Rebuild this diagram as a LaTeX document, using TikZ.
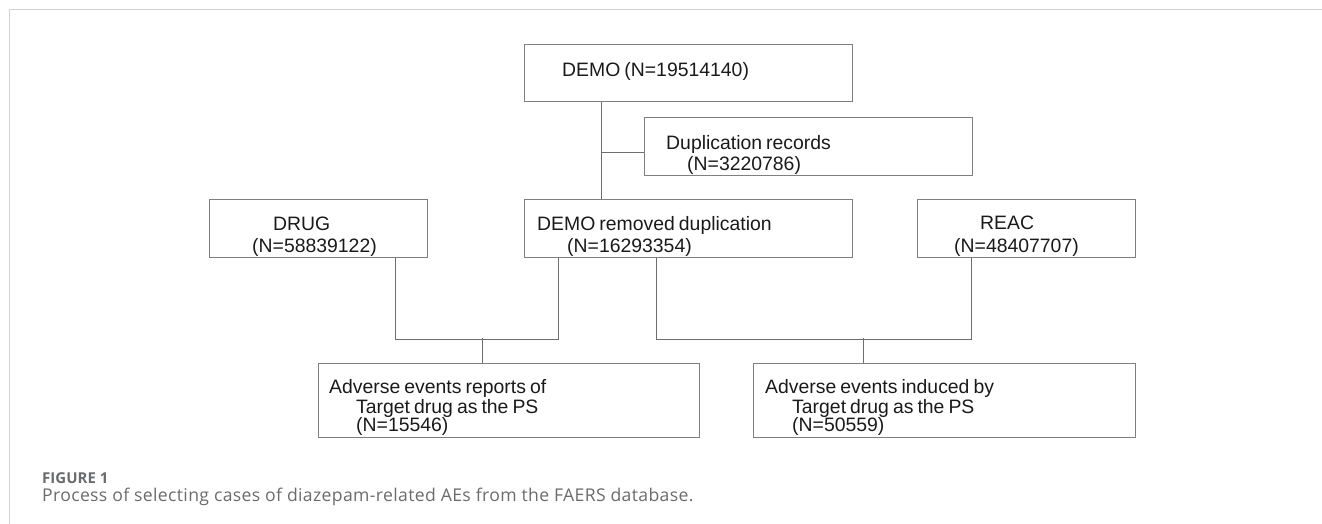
\documentclass[tikz,border=0pt]{standalone}
\usepackage{fontspec}
\setmainfont{Liberation Sans}[WordSpace=0.75]
\newfontfamily\capfont{Open Sans}[LetterSpace=2]
\newfontfamily\figfont{Open Sans}
\definecolor{boxgray}{HTML}{7F7F7F}
\definecolor{linegray}{HTML}{6E6E6E}
\definecolor{txt}{HTML}{1A1A1A}
\definecolor{capgray}{HTML}{6A6B6D}
\definecolor{framegray}{HTML}{D2D2D2}
\begin{document}
\begin{tikzpicture}[x=1pt,y=-1pt,
  box/.style={draw=boxgray,line width=1.1pt,inner sep=0pt,anchor=north west},
  lbl/.style={anchor=base west,inner sep=0pt,font=\fontsize{19.4}{20}\selectfont,text=txt},
  conn/.style={draw=linegray,line width=1pt},
  frame/.style={draw=framegray,line width=1.6pt}]
\useasboundingbox (0,0) rectangle (1322,524);
% frame
\coordinate (fTL) at (9.5,9.5);
\coordinate (fTR) at (1322,9.5);
\coordinate (fBL) at (9.5,524);
\draw[frame] (fTR) -- (fTL) -- (fBL);
% boxes
\node[box,minimum width=328pt,minimum height=57pt] (demo)   at (524,44)  {};
\node[box,minimum width=328pt,minimum height=58pt] (dup)    at (644,117) {};
\node[box,minimum width=218pt,minimum height=58pt] (drug)   at (209,199) {};
\node[box,minimum width=328pt,minimum height=58pt] (demorm) at (524,199) {};
\node[box,minimum width=218pt,minimum height=58pt] (reac)   at (917,199) {};
\node[box,minimum width=381pt,minimum height=74pt] (ael)    at (318,363) {};
\node[box,minimum width=382pt,minimum height=74pt] (aer)    at (753,363) {};
% connectors
\draw[conn] ([xshift=77pt]demo.south west) -- ([xshift=77pt]demorm.north west);
\draw[conn] ([yshift=-6pt]dup.west) -- ++(-43,0);
\draw[conn] ([xshift=186pt]drug.south west) -- ++(0,81) -- ++(163,0) -- ([xshift=34pt]demorm.south west);
\draw[conn] ([xshift=164pt]ael.north west) -- ++(0,-25);
\draw[conn] ([xshift=132pt]demorm.south west) -- ++(0,81) -- ++(315,0) -- ([xshift=54pt]reac.south west);
\draw[conn] ([xshift=110pt]aer.north west) -- ++(0,-25);
% texts
\node[lbl] (tdemo) at (562,77) {DEMO (N=19514140)};
\node[lbl] (tdup1) at (666,149.3) {Duplication records};
\node[lbl] (tdup2) at (687,170) {(N=3220786)};
\node[lbl] (tdrug1) at (273,230.5) {DRUG};
\node[lbl] (tdrug2) at (252,252.5) {(N=58839122)};
\node[lbl] (trm1) at (537,230.5) {DEMO removed duplication};
\node[lbl] (trm2) at (567,252.5) {(N=16293354)};
\node[lbl] (treac1) at (980,229.5) {REAC};
\node[lbl] (treac2) at (954,252) {(N=48407707)};
\node[lbl] (tael1) at (329,393.3) {Adverse events reports of};
\node[lbl] (tael2) at (356,413) {Target drug as the PS};
\node[lbl] (tael3) at (356,431.7) {(N=15546)};
\node[lbl] (taer1) at (765,393.3) {Adverse events induced by};
\node[lbl] (taer2) at (792,413) {Target drug as the PS};
\node[lbl] (taer3) at (792,431.7) {(N=50559)};
% caption
\node[anchor=base west,inner sep=0pt,font=\figfont\bfseries\fontsize{15}{17}\selectfont,text=capgray] (fig) at (42,483) {FIGURE 1};
\node[anchor=base west,inner sep=0pt,font=\capfont\fontsize{17.6}{20}\selectfont,text=capgray] (cap) at (42,501) {Process of selecting cases of diazepam-related AEs from the FAERS database.};
\end{tikzpicture}
\end{document}
